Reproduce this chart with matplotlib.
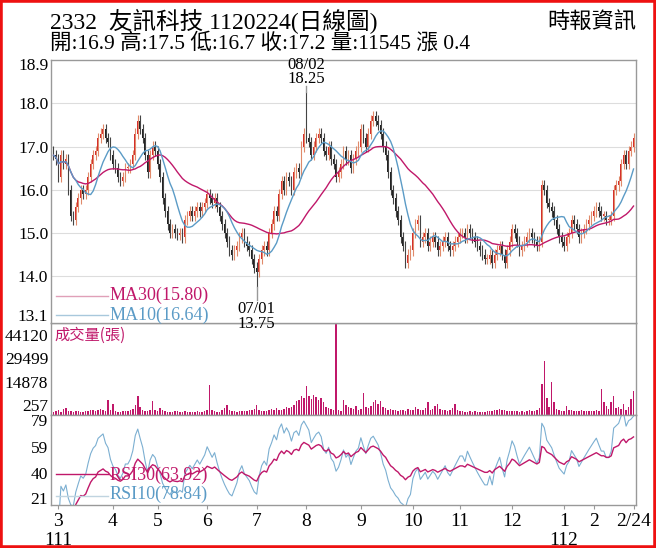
import numpy as np
import pandas as pd
import matplotlib
matplotlib.use("Agg")
import matplotlib.pyplot as plt
from matplotlib.patches import Rectangle

plt.rcParams['font.family'] = ['Liberation Serif', 'Noto Sans CJK TC']

close_mar = [16.8,16.7,16.3,16.8,16.6,16.7,16.0,15.4,15.3,15.6,15.8,16.0,15.9,16.0,16.3,16.6,16.8,16.9,17.2,17.3,17.4,17.2,17.1,16.8]
close_apr = [16.6,16.5,16.3,16.2,16.3,16.5,16.5,16.6,16.8,17.3,17.6,17.4,17.2,16.8,16.4,16.8,17.0,16.9]
close_may = [16.6,16.3,15.8,15.5,15.2,15.0,15.1,15.0,14.95,15.0,14.9,15.3,15.4,15.5,15.4,15.5,15.6,15.5,15.6,15.7]
close_jun = [15.9,15.8,15.7,15.8,15.6,15.4,15.2,15.0,14.8,14.6,14.5,14.6,14.7,14.9,15.0,14.8,14.7,14.6,14.4,14.2]
close_jul = [14.1,14.4,14.6,14.7,14.6,15.0,15.2,15.5,15.4,15.9,16.2,16.0,16.3,16.2,16.0,16.4,16.5,16.4,17.0,17.3]
close_aug = [17.2,17.1,16.8,17.0,17.2,17.3,17.2,16.9,16.8,17.0,16.7,16.6,16.3,16.4,16.6,16.9,16.7,16.8,16.5,16.7,16.9,17.0]
close_sep = [17.4,17.2,17.0,17.3,17.6,17.7,17.6,17.5,17.3,17.0,16.8,16.4,16.0,15.8,15.5,15.3,14.9,14.7,14.3,14.5,14.6]
close_oct = [15.0,15.2,15.3,14.8,14.9,15.0,14.7,14.8,14.9,14.8,14.6,14.7,14.8,14.9,14.7,14.6,14.7,14.8,14.9]
close_nov = [15.0,15.0,14.9,15.1,15.0,14.9,14.8,14.7,14.6,14.5,14.4,14.4,14.5,14.3,14.5,14.6,14.7,14.5,14.3,14.6,14.8]
close_dec = [15.1,15.0,14.8,14.6,14.7,14.8,14.9,15.0,14.9,14.8,14.7,14.8,16.1,16.0,15.7,15.6,15.5,15.3,15.1,14.9,14.8]
close_jan = [14.7,14.9,15.0,15.3,15.2,15.1,14.9,15.0,15.1,15.2,15.3,15.4]
close_feb = [15.5,15.6,15.5,15.4,15.4,15.3,15.3,15.4,16.0,16.1,16.2,16.6,16.8,16.6,16.9,17.0,17.2]

vol_mar = [1500,1800,2200,1600,2800,3500,2000,1700,1500,1900,2100,1600,1400,1800,2000,2500,2200,1800,2600,3000,2400,2000,7000,2200]
vol_apr = [5500,1800,1600,1500,1700,1900,2100,2400,3000,5000,9000,4000,2500,2000,1800,2600,6500,2200]
vol_may = [2000,3500,2400,1800,1600,1500,1400,1700,1900,1600,1500,1800,1400,1300,1500,1600,1700,1400,1500,1800]
vol_jun = [2500,14500,2500,2000,1600,1500,2500,3500,5000,2200,1900,1700,1600,1800,2000,1900,1800,2200,2500,3000]
vol_jul = [5000,2500,2000,1800,1900,2400,3000,2200,3500,2500,2400,3000,4000,3500,4000,5000,6500,7000,9000,8000]
vol_aug = [14000,9000,7500,9500,8500,7000,8000,6000,4000,3500,3000,2500,44120,2200,2000,7000,5000,4000,3500,3000,4500,2500]
vol_sep = [3000,10500,4000,3500,4500,6000,7000,5500,6500,4000,3500,2500,3000,2500,2200,2000,2500,2200,2000,3000,2500]
vol_oct = [2500,4000,3000,2200,2500,3500,6000,2500,3000,4500,5500,3000,2500,2200,2000,2400,3500,5500,2500]
vol_nov = [2000,1800,1600,1500,1700,1600,1800,1500,1400,1600,1500,1700,1800,2000,2200,2500,3000,2200,2400,2000,1800]
vol_dec = [1900,2000,1800,1600,1700,1500,1900,2200,2000,1800,2500,3500,15000,26000,8000,4000,16000,6000,3000,2500,2000]
vol_jan = [1800,4500,2500,2200,2000,1800,1900,2200,2000,1800,1700,2000]
vol_feb = [1800,2200,2000,12500,6000,4500,3000,6000,9000,3500,4000,3000,5500,2500,4000,7500,11545]

month_ticks = ["3","4","5","6","7","8","9","10","11","12","1","2","2/24"]
year_ticks = ["111","112"]

close = np.array(close_mar+close_apr+close_may+close_jun+close_jul+close_aug+
                 close_sep+close_oct+close_nov+close_dec+close_jan+close_feb)
vol = np.array(vol_mar+vol_apr+vol_may+vol_jun+vol_jul+vol_aug+vol_sep+vol_oct+
               vol_nov+vol_dec+vol_jan+vol_feb, dtype=float)
n = len(close)
x = np.arange(n)
s = pd.Series(close)
opn = s.shift(1).fillna(16.9).values
hi = np.maximum(opn, close) + 0.12
lo = np.minimum(opn, close) - 0.12
hi[102] = 18.25
lo[82] = 13.75
ma30 = s.rolling(30, min_periods=1).mean().values
ma10 = s.rolling(10, min_periods=1).mean().values
d = s.diff()
def rsi(p):
    up = d.clip(lower=0).ewm(alpha=1/p, adjust=False).mean()
    dn = (-d.clip(upper=0)).ewm(alpha=1/p, adjust=False).mean()
    return (100 - 100/(1+up/dn)).values
rsi10 = rsi(10); rsi30 = rsi(30)

W, H = 656, 548
fig = plt.figure(figsize=(W/100, H/100), dpi=100)
fig.patches.append(Rectangle((0, 0), 1, 1, transform=fig.transFigure, fill=False,
                             edgecolor='#ee1111', linewidth=4))
def ax_at(top, bot):
    return fig.add_axes([51/W, (H-bot)/H, (636-51)/W, (bot-top)/H])
axv = ax_at(323, 415); axr = ax_at(415, 505); axp = ax_at(60, 323)
RED = '#d42a2a'; MAG = '#c0186a'; BLU = '#5b9bc6'; GR = '#999999'
for a in (axp, axv, axr):
    a.set_xlim(-1, n)
    for sp in a.spines.values():
        sp.set_color(GR); sp.set_linewidth(1)
    a.tick_params(axis='y', length=0, labelsize=12.5, pad=2)
    a.tick_params(axis='x', length=0)
    a.set_xticks([])

up = close >= opn
cols = np.where(up, RED, '#222222')
axp.vlines(x, lo, hi, colors=np.where(up, '#e08a6a', '#444444'), linewidth=0.8)
axp.bar(x, np.maximum(np.abs(close-opn), 0.03), bottom=np.minimum(opn, close),
        width=0.65, color=cols)
axp.plot(x, ma30, color=MAG, lw=1)
axp.plot(x, ma10, color=BLU, lw=1)
axp.set_ylim(12.92, 19.0)
pt = [18.9, 18.0, 17.0, 16.0, 15.0, 14.0, 13.1]
axp.set_yticks(pt, [f"{v:.1f}" for v in pt])
for v in pt[1:-1]:
    axp.axhline(v, color='#dddddd', lw=0.8, zorder=0)
axp.plot([102, 102], [18.25, 18.4], color=GR, lw=1)
axp.text(102, 18.38, "08/02\n18.25", ha='center', va='bottom', fontsize=12,
         linespacing=0.85, clip_on=False)
axp.plot([82, 82], [13.75, 13.45], color=GR, lw=1)
axp.text(82, 13.42, "07/01\n13.75", ha='center', va='top', fontsize=12, linespacing=0.85,
         clip_on=False, zorder=5)
axp.plot([1, 22], [13.55, 13.55], color='#e0a0b8', lw=1)
axp.text(22.5, 13.55, "MA30(15.80)", color=MAG, fontsize=13, va='center')
axp.plot([1, 22], [13.1, 13.1], color='#a8c8dc', lw=1)
axp.text(22.5, 13.1, "MA10(16.64)", color=BLU, fontsize=13, va='center')

base = -6000
top = 51600
axv.bar(x, vol*(top-base)/vol.max(), bottom=base, width=0.6, color=MAG)
axv.set_ylim(base, top)
vt = [257, 14878, 29499, 44120]
axv.set_yticks(vt, [str(v) for v in vt])
axv.text(0.3, 44120, "成交量(張)", color=MAG, fontsize=11, va='center',
         family=['Noto Sans CJK TC'])

axr.plot(x, rsi10, color=BLU, lw=0.8, alpha=0.8)
axr.plot(x, rsi30, color=MAG, lw=1)
axr.set_ylim(16, 83)
rt = [21, 40, 59, 79]
axr.set_yticks(rt, [str(v) for v in rt])
axr.plot([1, 22], [39, 39], color=MAG, lw=1)
axr.text(22.5, 38, "RSI30(63.92)", color=MAG, fontsize=13, va='center')
axr.plot([1, 22], [23, 23], color='#c0d4e0', lw=1)
axr.text(22.5, 24, "RSI10(78.84)", color=BLU, fontsize=13, va='center')
mpos = [2, 24, 42, 62, 82, 102, 124, 145, 164, 185, 206, 218, 234]
axr.set_xticks(mpos, month_ticks)
axr.tick_params(axis='x', length=3, labelsize=14, pad=3, color=GR)
axr.text(2, -0.3, year_ticks[0], transform=axr.get_xaxis_transform(), ha='center',
         va='top', fontsize=14)
axr.text(206, -0.3, year_ticks[1], transform=axr.get_xaxis_transform(), ha='center',
         va='top', fontsize=14)

fig.text(50/W, 1-21/H, "2332  友訊科技 1120224(日線圖)", fontsize=17, va='center')
fig.text(50/W, 1-43/H, "開:16.9 高:17.5 低:16.7 收:17.2 量:11545 漲 0.4", fontsize=15.5, va='center')
fig.text(636/W, 1-22/H, "時報資訊", fontsize=16, va='center', ha='right')
fig.savefig("out.png", dpi=100)
